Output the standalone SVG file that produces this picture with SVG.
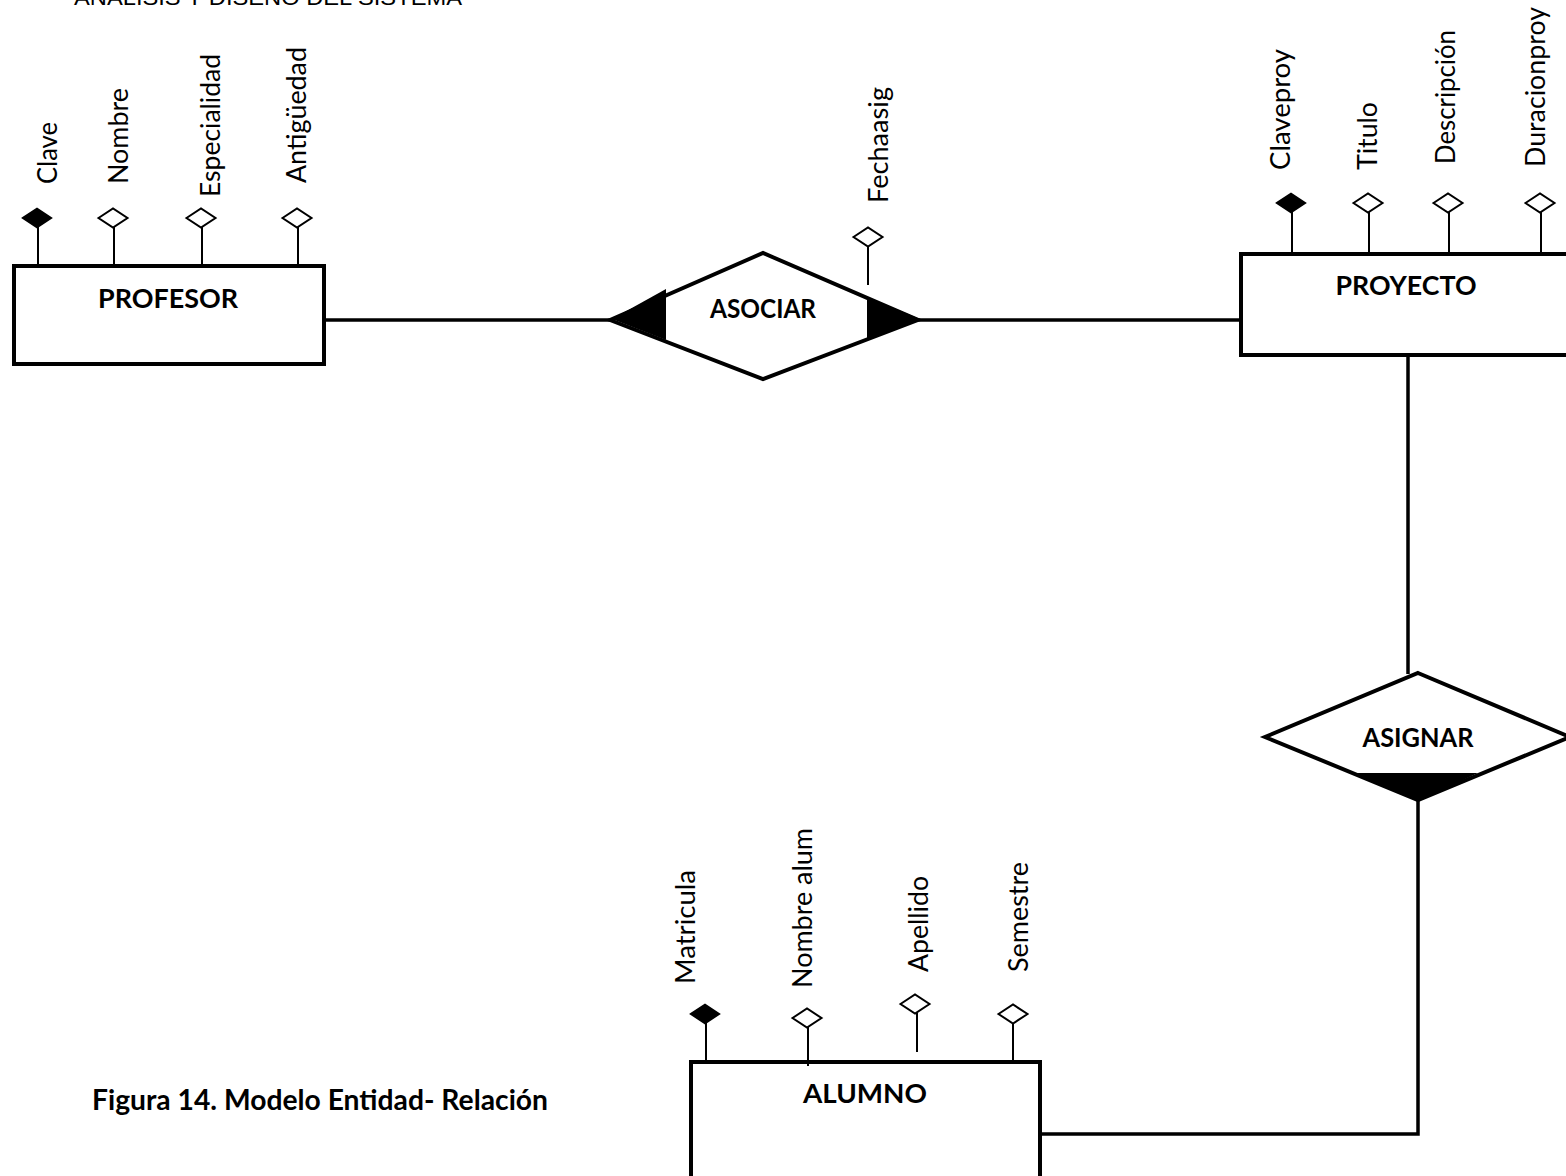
<svg xmlns="http://www.w3.org/2000/svg" width="1566" height="1176" viewBox="0 0 1566 1176">
  <style>
    .ent { fill: #fff; stroke: #000; stroke-width: 4; }
    .rel { fill: #fff; stroke: #000; stroke-width: 4; stroke-linejoin: miter; }
    .card { fill: #000; stroke: none; }
    .stem { stroke: #000; stroke-width: 2; fill: none; }
    .key { fill: #000; stroke: #000; stroke-width: 1.5; }
    .opt { fill: #fff; stroke: #000; stroke-width: 2; }
    .conn { stroke: #000; stroke-width: 3.5; fill: none; }
    .lbl { font-family: Lato, "Liberation Sans", sans-serif; font-size: 27px; fill: #000; }
    .name { font-family: Lato, "Liberation Sans", sans-serif; font-size: 27px; font-weight: bold; fill: #000; text-anchor: middle; }
    .head { font-family: "Liberation Sans", Arial, sans-serif; font-size: 22px; fill: #000; }
    .cap { font-family: Lato, "Liberation Sans", sans-serif; font-size: 28px; font-weight: bold; fill: #000; }
  </style>
  <defs>
    <path id="dia" d="M-14.5,0 L0,-9.5 L14.5,0 L0,9.5 Z"/>
  </defs>

  <text class="head" x="74" y="5" textLength="388" lengthAdjust="spacingAndGlyphs">ANÁLISIS Y DISEÑO DEL SISTEMA</text>

  <!-- connectors -->
  <g id="connectors">
    <line class="conn" x1="324" y1="320" x2="612" y2="320"/>
    <line class="conn" x1="918" y1="320" x2="1241" y2="320"/>
    <line class="conn" x1="1408" y1="355" x2="1408" y2="674"/>
    <polyline class="conn" points="1418,800 1418,1134 1040,1134"/>
  </g>

  <!-- PROFESOR -->
  <g id="profesor">
    <rect class="ent" x="14" y="266" width="310" height="98"/>
    <text class="name" x="168" y="308" textLength="140" lengthAdjust="spacingAndGlyphs">PROFESOR</text>
    <line class="stem" x1="38" y1="227" x2="38" y2="266"/>
    <use href="#dia" class="key" x="37" y="218"/>
    <line class="stem" x1="114" y1="227" x2="114" y2="266"/>
    <use href="#dia" class="opt" x="113" y="218"/>
    <line class="stem" x1="202" y1="227" x2="202" y2="266"/>
    <use href="#dia" class="opt" x="201" y="218"/>
    <line class="stem" x1="298" y1="227" x2="298" y2="266"/>
    <use href="#dia" class="opt" x="297" y="218"/>
    <text class="lbl" transform="translate(57,184) rotate(-90)" textLength="62" lengthAdjust="spacingAndGlyphs">Clave</text>
    <text class="lbl" transform="translate(128,184) rotate(-90)" textLength="96" lengthAdjust="spacingAndGlyphs">Nombre</text>
    <text class="lbl" transform="translate(220,197) rotate(-90)" textLength="143" lengthAdjust="spacingAndGlyphs">Especialidad</text>
    <text class="lbl" transform="translate(306,183) rotate(-90)" textLength="136" lengthAdjust="spacingAndGlyphs">Antigüedad</text>
  </g>

  <!-- ASOCIAR -->
  <g id="asociar">
    <polygon class="rel" points="610,320 763,253 918,320 763,379"/>
    <polygon class="card" points="612,319 666,289 666,340"/>
    <polygon class="card" points="867,297 867,340 920,319"/>
    <text class="name" x="763" y="318" textLength="106" lengthAdjust="spacingAndGlyphs">ASOCIAR</text>
    <line class="stem" x1="868" y1="245" x2="868" y2="285"/>
    <use href="#dia" class="opt" x="868" y="237"/>
    <text class="lbl" transform="translate(888,203) rotate(-90)" textLength="116" lengthAdjust="spacingAndGlyphs">Fechaasig</text>
  </g>

  <!-- PROYECTO -->
  <g id="proyecto">
    <rect class="ent" x="1241" y="254" width="340" height="101"/>
    <text class="name" x="1406" y="295" textLength="141" lengthAdjust="spacingAndGlyphs">PROYECTO</text>
    <line class="stem" x1="1292" y1="212" x2="1292" y2="254"/>
    <use href="#dia" class="key" x="1291" y="203"/>
    <line class="stem" x1="1369" y1="212" x2="1369" y2="254"/>
    <use href="#dia" class="opt" x="1368" y="203"/>
    <line class="stem" x1="1449" y1="212" x2="1449" y2="254"/>
    <use href="#dia" class="opt" x="1448" y="203"/>
    <line class="stem" x1="1541" y1="212" x2="1541" y2="254"/>
    <use href="#dia" class="opt" x="1540" y="203"/>
    <text class="lbl" transform="translate(1290,170) rotate(-90)" textLength="121" lengthAdjust="spacingAndGlyphs">Claveproy</text>
    <text class="lbl" transform="translate(1377,170) rotate(-90)" textLength="68" lengthAdjust="spacingAndGlyphs">Titulo</text>
    <text class="lbl" transform="translate(1455,164) rotate(-90)" textLength="134" lengthAdjust="spacingAndGlyphs">Descripción</text>
    <text class="lbl" transform="translate(1545,167) rotate(-90)" textLength="160" lengthAdjust="spacingAndGlyphs">Duracionproy</text>
  </g>

  <!-- ASIGNAR -->
  <g id="asignar">
    <polygon class="rel" points="1418,673 1570,737 1418,800 1265,737"/>
    <polygon class="card" points="1354,773 1478,773 1418,801"/>
    <text class="name" x="1418" y="747" textLength="111" lengthAdjust="spacingAndGlyphs">ASIGNAR</text>
  </g>

  <!-- ALUMNO -->
  <g id="alumno">
    <rect class="ent" x="691" y="1062" width="349" height="140"/>
    <text class="name" x="865" y="1103" textLength="124" lengthAdjust="spacingAndGlyphs">ALUMNO</text>
    <line class="stem" x1="706" y1="1023" x2="706" y2="1062"/>
    <use href="#dia" class="key" x="705" y="1014"/>
    <line class="stem" x1="808" y1="1027" x2="808" y2="1066"/>
    <use href="#dia" class="opt" x="807" y="1018"/>
    <line class="stem" x1="917" y1="1013" x2="917" y2="1052"/>
    <use href="#dia" class="opt" x="915" y="1004"/>
    <line class="stem" x1="1013" y1="1023" x2="1013" y2="1062"/>
    <use href="#dia" class="opt" x="1013" y="1014"/>
    <text class="lbl" transform="translate(695,984) rotate(-90)" textLength="114" lengthAdjust="spacingAndGlyphs">Matricula</text>
    <text class="lbl" transform="translate(812,988) rotate(-90)" textLength="160" lengthAdjust="spacingAndGlyphs">Nombre alum</text>
    <text class="lbl" transform="translate(928,972) rotate(-90)" textLength="96" lengthAdjust="spacingAndGlyphs">Apellido</text>
    <text class="lbl" transform="translate(1028,972) rotate(-90)" textLength="110" lengthAdjust="spacingAndGlyphs">Semestre</text>
  </g>

  <text class="cap" x="92" y="1110" textLength="456" lengthAdjust="spacingAndGlyphs">Figura 14. Modelo Entidad- Relación</text>
</svg>
